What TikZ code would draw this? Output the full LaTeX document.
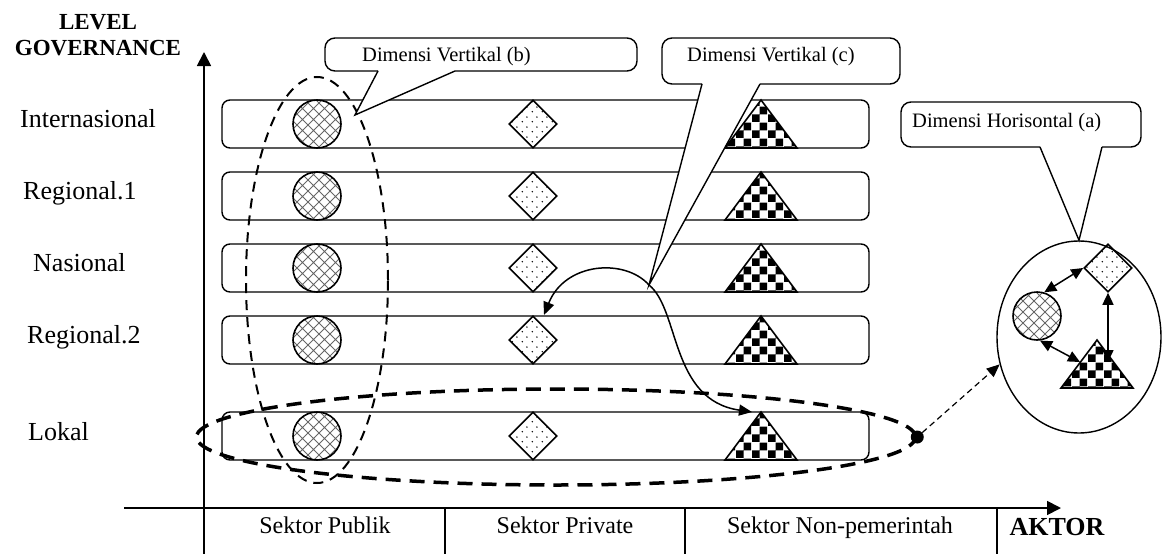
\documentclass[tikz,border=0pt]{standalone}
\usepackage{fontspec}
\setmainfont{Liberation Serif}
\usetikzlibrary{shapes.geometric,arrows.meta,patterns}
\pgfdeclarepatternformonly{xhatch}{\pgfqpoint{-1pt}{-1pt}}{\pgfqpoint{12pt}{12pt}}{\pgfqpoint{11pt}{11pt}}{%
  \pgfsetlinewidth{0.9pt}%
  \pgfpathmoveto{\pgfqpoint{0pt}{0pt}}\pgfpathlineto{\pgfqpoint{11pt}{11pt}}%
  \pgfpathmoveto{\pgfqpoint{0pt}{11pt}}\pgfpathlineto{\pgfqpoint{11pt}{0pt}}%
  \pgfusepath{stroke}}
\pgfdeclarepatternformonly{sdots}{\pgfqpoint{0pt}{0pt}}{\pgfqpoint{10pt}{10pt}}{\pgfqpoint{10pt}{10pt}}{%
  \pgfpathcircle{\pgfqpoint{2.5pt}{2.5pt}}{0.85pt}%
  \pgfpathcircle{\pgfqpoint{7.5pt}{7.5pt}}{0.85pt}%
  \pgfusepath{fill}}
\pgfdeclarepatternformonly{bigcheck}{\pgfqpoint{0pt}{0pt}}{\pgfqpoint{16pt}{16pt}}{\pgfqpoint{16pt}{16pt}}{%
  \pgfpathrectangle{\pgfqpoint{0pt}{0pt}}{\pgfqpoint{8pt}{8pt}}%
  \pgfpathrectangle{\pgfqpoint{8pt}{8pt}}{\pgfqpoint{8pt}{8pt}}%
  \pgfusepath{fill}}
\begin{document}
\begin{tikzpicture}[x=1pt,y=-1pt,
  rowbox/.style={draw, line width=1.4pt, rounded corners=8pt, minimum width=647pt, minimum height=48pt, inner sep=0pt},
  pub/.style={circle, draw, line width=1.6pt, minimum size=48pt, inner sep=0pt, pattern=xhatch, pattern color=black!60},
  priv/.style={diamond, draw, line width=1.6pt, minimum width=48pt, minimum height=48pt, inner sep=0pt, aspect=1, pattern=sdots},
  ngo/.style={draw, line width=1.6pt, pattern=bigcheck, line join=miter},
  lvl/.style={font=\fontsize{26}{30}\selectfont, anchor=base west, inner sep=0pt},
  sec/.style={font=\fontsize{24}{28}\selectfont, anchor=base, inner sep=0pt},
  bld/.style={font=\bfseries\fontsize{23}{27}\selectfont, anchor=base, inner sep=0pt},
  ctext/.style={font=\fontsize{20.5}{24}\selectfont, anchor=base west, inner sep=0pt},
  callout/.style={line width=1.4pt},
  axis/.style={line width=1.8pt},
  bigtip/.style={-{Triangle[length=14pt,width=14pt]}},
  dbl/.style={line width=1.5pt, {Triangle[length=12pt,width=11pt]}-{Triangle[length=12pt,width=11pt]}},
  curv/.style={line width=1.5pt, -{Triangle[length=13pt,width=11pt]}}
]
\useasboundingbox (0,0) rectangle (1162,554);

% axes and table
\coordinate (ybot) at (204,554);
\coordinate (ytop) at (204,52);
\coordinate (xleft) at (124,508);
\coordinate (xright) at (1061,508);
\draw[axis,bigtip] (ybot) -- (ytop);
\draw[axis,bigtip] (xleft) -- (xright);
\foreach \x/\n in {445/a,685/b,997/c} {
  \coordinate (tt\n) at (\x,508);
  \coordinate (tb\n) at (\x,554);
  \draw[axis] (tt\n) -- (tb\n);
}

% axis titles
\node[bld] (lev1) at (98,29) {LEVEL};
\node[bld] (lev2) at (98,55) {GOVERNANCE};
\node[font=\bfseries\fontsize{26}{30}\selectfont, anchor=base, inner sep=0pt] (aktor) at (1057,535) {AKTOR};

% sector labels
\node[sec] (sPub) at (325,533) {Sektor Publik};
\node[sec] (sPriv) at (565,533) {Sektor Private};
\node[sec] (sNgo) at (840,533) {Sektor Non-pemerintah};

% level labels
\node[lvl] (lInt) at (20,127) {Internasional};
\node[lvl] (lReg1) at (23,199) {Regional.1};
\node[lvl] (lNas) at (33,271) {Nasional};
\node[lvl] (lReg2) at (27,343) {Regional.2};
\node[lvl] (lLok) at (28,440) {Lokal};

% rows
\foreach \i/\y in {1/124,2/196,3/268,4/340,5/436} {
  \node[rowbox] (row\i) at (545.5,\y) {};
  \node[pub] (pub\i) at (317,\y) {};
  \node[priv] (priv\i) at (533,\y) {};
  \coordinate (ngo\i) at (761,{\y-24});
  \draw[ngo] (ngo\i) -- (797,{\y+24}) -- (725,{\y+24}) -- cycle;
}

% dashed groupings
\node[ellipse, draw, line width=2pt, dash pattern=on 10pt off 7pt, minimum width=142pt, minimum height=406pt, inner sep=0pt] (vert) at (317,280) {};
\node[ellipse, draw, line width=3.5pt, dash pattern=on 15pt off 9pt, minimum width=719pt, minimum height=96pt, inner sep=0pt] (lok) at (556,437) {};
\node[circle, fill, inner sep=0pt, minimum size=13pt] (dot) at (lok.east) {};

% horizontal group on the right
\node[ellipse, draw, line width=1.4pt, minimum width=164pt, minimum height=192pt, inner sep=0pt] (grp) at (1079,337) {};
\node[pub] (pubG) at (1037,316) {};
\node[priv] (privG) at (1108,268) {};
\coordinate (ngoG) at (1097,340);
\draw[ngo] (ngoG) -- (1133,388) -- (1061,388) -- cycle;
\coordinate (ngoL) at (1080,362);
\coordinate (ngoC) at (1108,362);
\draw[dbl] (pubG.73) -- (privG.west);
\draw[dbl] (pubG.277) -- (ngoL);
\draw[dbl] (ngoC) -- (privG.south);
\draw[line width=1.2pt, dash pattern=on 6pt off 4pt, -{Triangle[length=13pt,width=11pt]}] (dot) -- (grp.199);

% curved arrows of vertical dimension (c)
\coordinate (tipc) at (649,285);
\coordinate (ar4) at (544,315);
\coordinate (ar5) at (752,412);
\draw[curv] (tipc) .. controls (625,258) and (565,262) .. (ar4);
\draw[curv] (tipc) .. controls (680,310) and (670,400) .. (ar5);

% callout (b)
\coordinate (tipb) at (355,115);
\fill[white, rounded corners=10pt] (325,38) rectangle (637,71);
\fill[white] (378,70) -- (tipb) -- (455,70) -- cycle;
\draw[callout, rounded corners=10pt] (455,71) -- (637,71) -- (637,38) -- (325,38) -- (325,71) -- (378,71);
\draw[callout, line join=miter] (378,71) -- (tipb) -- (455,71);
\node[ctext] (tb) at (362,61) {Dimensi Vertikal (b)};

% callout (c)
\fill[white, rounded corners=10pt] (662,38) rectangle (900,84);
\fill[white] (702,83) -- (tipc) -- (760,83) -- cycle;
\draw[callout, rounded corners=10pt] (760,84) -- (900,84) -- (900,38) -- (662,38) -- (662,84) -- (702,84);
\draw[callout, line join=miter] (702,84) -- (tipc) -- (760,84);
\node[ctext] (tc) at (687,61) {Dimensi Vertikal (c)};

% callout (a)
\fill[white, rounded corners=10pt] (901,102) rectangle (1141,147);
\fill[white] (1040,146) -- (grp.north) -- (1102,146) -- cycle;
\draw[callout, rounded corners=10pt] (1102,147) -- (1141,147) -- (1141,102) -- (901,102) -- (901,147) -- (1040,147);
\draw[callout, line join=miter] (1040,147) -- (grp.north) -- (1102,147);
\node[ctext] (ta) at (912,127) {Dimensi Horisontal (a)};
\end{tikzpicture}
\end{document}
